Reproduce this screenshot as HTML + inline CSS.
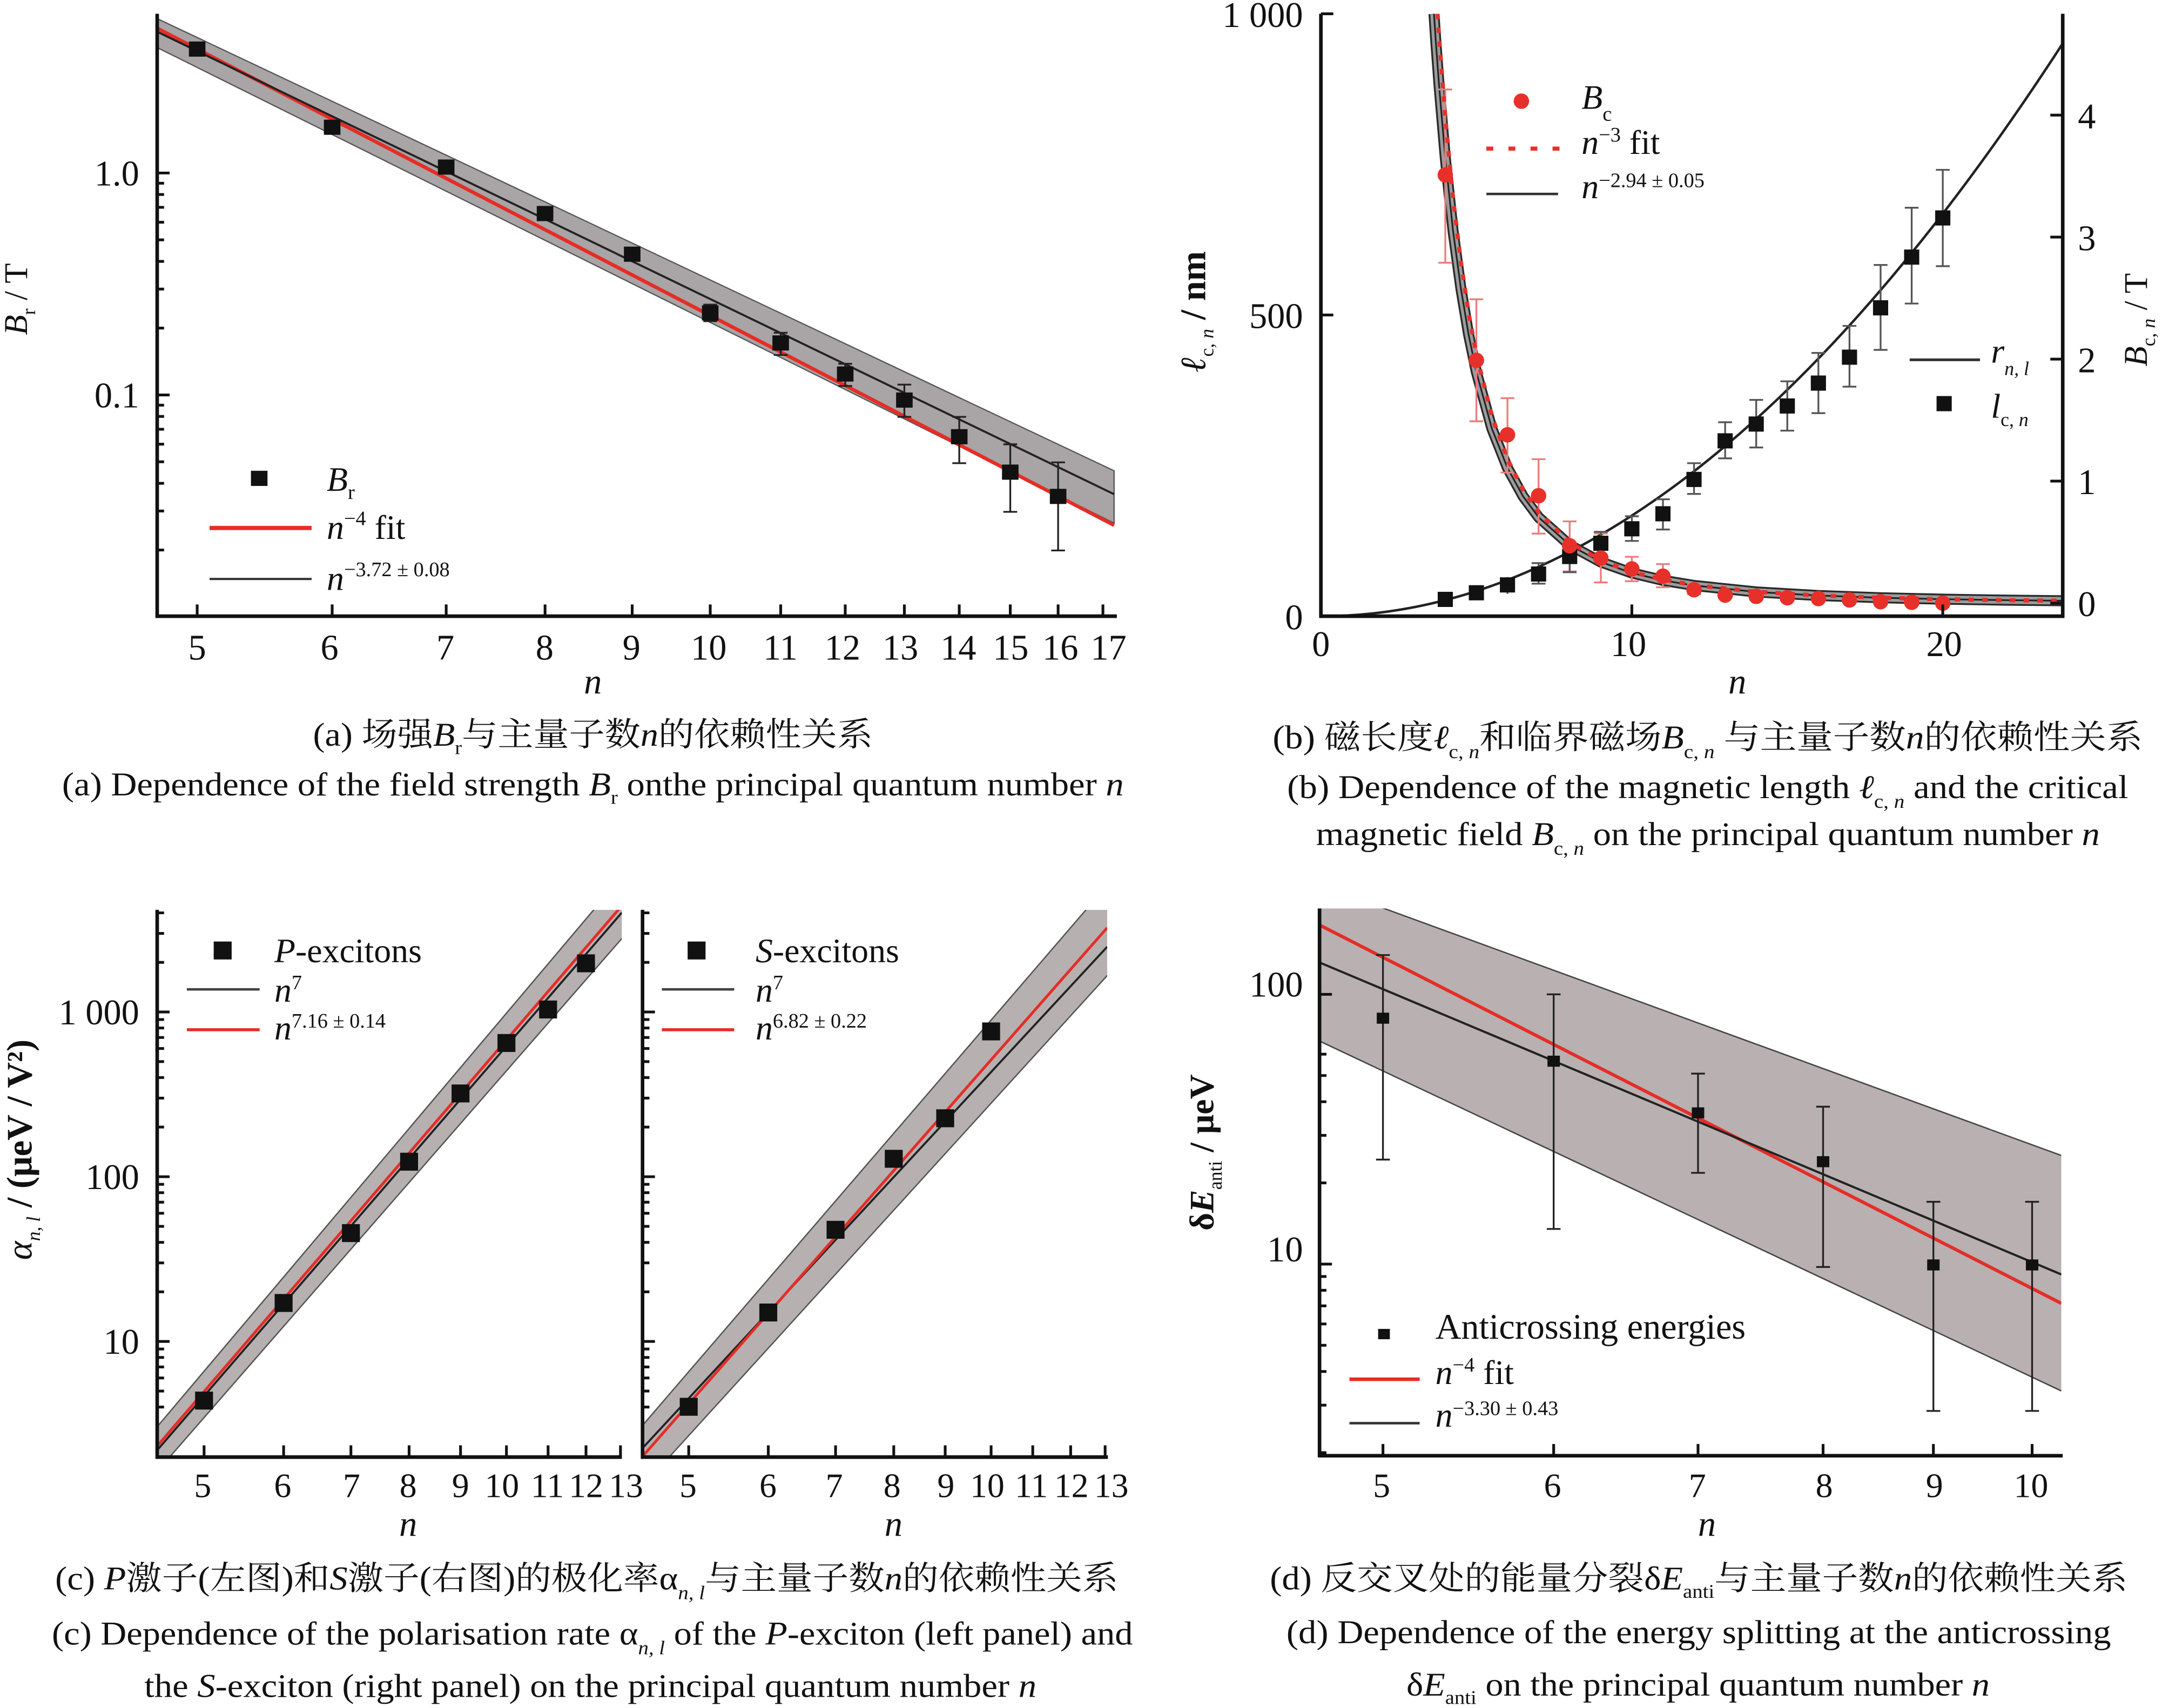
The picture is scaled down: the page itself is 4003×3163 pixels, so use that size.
<!DOCTYPE html>
<html><head><meta charset="utf-8"><style>html,body{margin:0;padding:0;background:#fff}svg{display:block}</style></head>
<body>
<svg xmlns="http://www.w3.org/2000/svg" width="4003" height="3163" viewBox="0 0 1568 1239" preserveAspectRatio="none" font-family="'Liberation Serif','Noto Serif CJK SC',serif" fill="#111">
<defs>
<clipPath id="ca"><rect x="114" y="10" width="695" height="437"/></clipPath>
<clipPath id="cb"><rect x="958" y="10" width="538" height="437"/></clipPath>
<clipPath id="cl"><rect x="114" y="660" width="337" height="397"/></clipPath>
<clipPath id="cr"><rect x="466" y="660" width="337" height="397"/></clipPath>
<clipPath id="cd"><rect x="957" y="659" width="538" height="397"/></clipPath>
</defs>
<rect width="1568" height="1239" fill="#fff"/>

<!-- ================= PANEL A ================= -->
<g clip-path="url(#ca)">
<polygon points="114,13.5 808,341.5 808,379.5 114,34.5" fill="#a9a4a5" stroke="#555" stroke-width="0.9"/>
<line x1="114" y1="20.5" x2="808" y2="381" stroke="#e52d27" stroke-width="2.6"/>
<line x1="114" y1="23" x2="808" y2="358.5" stroke="#222" stroke-width="1.5"/>
<path d="M515.1 221V233M510.1 221H520.1M510.1 233H520.1
M566.2 241.4V257.5M561.2 241.4H571.2M561.2 257.5H571.2
M613 263.9V280M608 263.9H618M608 280H618
M655.9 279V302.4M650.9 279H660.9M650.9 302.4H660.9
M695.7 302.4V336M690.7 302.4H700.7M690.7 336H700.7
M732.7 322.3V371.3M727.7 322.3H737.7M727.7 371.3H737.7
M767.4 335.4V399.3M762.4 335.4H772.4M762.4 399.3H772.4" stroke="#222" stroke-width="1.3" fill="none"/>
<g fill="#111">
<rect x="137" y="30.1" width="12" height="11"/>
<rect x="234.9" y="86.8" width="12" height="11"/>
<rect x="317.6" y="115.7" width="12" height="11"/>
<rect x="389.3" y="149.4" width="12" height="11"/>
<rect x="452.5" y="178.9" width="12" height="11"/>
<rect x="509.1" y="221.5" width="12" height="11"/>
<rect x="560.2" y="243.3" width="12" height="11"/>
<rect x="607" y="265.8" width="12" height="11"/>
<rect x="649.9" y="284.7" width="12" height="11"/>
<rect x="689.7" y="311.3" width="12" height="11"/>
<rect x="726.7" y="337" width="12" height="11"/>
<rect x="761.4" y="354.6" width="12" height="11"/>
</g>
</g>
<!-- axes a -->
<path d="M114 10V448M112.8 447H810" stroke="#111" stroke-width="2.6" fill="none"/>
<path d="M114 125.5h9M114 286.5h9
M114 132.9h5M114 141.1h5M114 150.4h5M114 161.2h5M114 174h5M114 189.6h5M114 209.7h5M114 238h5
M114 293.9h5M114 302.1h5M114 311.4h5M114 322.2h5M114 335h5M114 350.6h5M114 370.7h5M114 399h5
M143 447v-8.5M240.9 447v-8.5M323.6 447v-8.5M395.3 447v-8.5M458.5 447v-8.5M515.1 447v-8.5M566.2 447v-8.5M613 447v-8.5M655.9 447v-8.5M695.7 447v-8.5M732.7 447v-8.5M767.4 447v-8.5M799.9 447v-8.5" stroke="#111" stroke-width="2" fill="none"/>
<g font-size="26" text-anchor="middle">
<text x="143" y="478.5">5</text><text x="239" y="478.5">6</text><text x="323" y="478.5">7</text><text x="395" y="478.5">8</text><text x="458" y="478.5">9</text><text x="514" y="478.5">10</text><text x="566" y="478.5">11</text><text x="611" y="478.5">12</text><text x="653" y="478.5">13</text><text x="695" y="478.5">14</text><text x="733" y="478.5">15</text><text x="769" y="478.5">16</text><text x="804" y="478.5">17</text>
</g>
<g font-size="26" text-anchor="end">
<text x="101" y="134.5">1.0</text><text x="101" y="295.5">0.1</text>
</g>
<text x="430" y="503" font-size="26" font-style="italic" text-anchor="middle">n</text>
<text transform="translate(19.5,217) rotate(-90)" text-anchor="middle" font-size="24"><tspan font-style="italic">B</tspan><tspan font-size="14" dy="6">r</tspan><tspan dy="-6"> / T</tspan></text>
<!-- legend a -->
<rect x="182" y="341.5" width="12" height="11" fill="#111"/>
<text x="237" y="356" font-size="25"><tspan font-style="italic">B</tspan><tspan font-size="15" dy="6">r</tspan></text>
<line x1="152" y1="383" x2="226" y2="383" stroke="#e52d27" stroke-width="3"/>
<text x="237" y="391" font-size="25"><tspan font-style="italic">n</tspan><tspan font-size="15" dy="-10">−4</tspan><tspan dy="10"> fit</tspan></text>
<line x1="152" y1="420" x2="226" y2="420" stroke="#333" stroke-width="1.6"/>
<text x="237" y="428" font-size="25"><tspan font-style="italic">n</tspan><tspan font-size="15" dy="-10">−3.72 ± 0.08</tspan></text>

<!-- ================= PANEL B ================= -->
<g clip-path="url(#cb)">
<path d="M1040 10L1041.4 31.1L1043.7 62L1048.2 114.5L1053.8 167.2L1059.5 209.1L1065.1 242.6L1070.75 269.9L1082 310.9L1093.3 339.45L1104.6 360L1115.85 375.2L1138.4 395.4L1161 407.7L1183.5 415.65L1206.05 421L1228.6 424.7L1273.7 429.4L1318.8 432L1363.9 433.6L1409 434.65L1454.1 435.35L1496 435.8" fill="none" stroke="#2a2a2a" stroke-width="8" stroke-linejoin="round"/>
<path d="M1040 10L1041.4 31.1L1043.7 62L1048.2 114.5L1053.8 167.2L1059.5 209.1L1065.1 242.6L1070.75 269.9L1082 310.9L1093.3 339.45L1104.6 360L1115.85 375.2L1138.4 395.4L1161 407.7L1183.5 415.65L1206.05 421L1228.6 424.7L1273.7 429.4L1318.8 432L1363.9 433.6L1409 434.65L1454.1 435.35L1496 435.8" fill="none" stroke="#9c9c9c" stroke-width="5.4" stroke-linejoin="round"/>
<path d="M1040 10L1041.4 31.1L1043.7 62L1048.2 114.5L1053.8 167.2L1059.5 209.1L1065.1 242.6L1070.75 269.9L1082 310.9L1093.3 339.45L1104.6 360L1115.85 375.2L1138.4 395.4L1161 407.7L1183.5 415.65L1206.05 421L1228.6 424.7L1273.7 429.4L1318.8 432L1363.9 433.6L1409 434.65L1454.1 435.35L1496 435.8" fill="none" stroke="#222" stroke-width="1.2" stroke-linejoin="round"/>
<!-- rising curve -->
<path d="M958 447Q1227 447 1496 31.5" fill="none" stroke="#222" stroke-width="1.8"/>
<!-- red error bars -->
<path d="M1048.2 64.9V190.6M1043.2 64.9H1053.2M1043.2 190.6H1053.2
M1070.75 217.1V305.6M1065.75 217.1H1075.75M1065.75 305.6H1075.75
M1093.3 288.8V342.8M1088.3 288.8H1098.3M1088.3 342.8H1098.3
M1115.85 333.1V387.1M1110.85 333.1H1120.85M1110.85 387.1H1120.85
M1138.4 378.2V414.5M1133.4 378.2H1143.4M1133.4 414.5H1143.4
M1161 387V422.5M1156 387H1166M1156 422.5H1166
M1183.5 403.9V421.6M1178.5 403.9H1188.5M1178.5 421.6H1188.5
M1206.05 409.2V426M1201.05 409.2H1211.05M1201.05 426H1211.05
M1228.6 424V431M1223.6 424H1233.6M1223.6 431H1233.6" stroke="#ec7b7b" stroke-width="1.3" fill="none"/>
<!-- black error bars -->
<path d="M1048.2 432V437.4M1070.75 426V433.9M1093.3 418.6V430.8M1115.85 408.5V423.4M1110.85 408.5H1120.85M1110.85 423.4H1120.85
M1138.4 395V415.1M1133.4 395H1143.4M1133.4 415.1H1143.4
M1161 385.8V402.4M1156 385.8H1166M1156 402.4H1166
M1183.5 374.5V392.4M1178.5 374.5H1188.5M1178.5 392.4H1188.5
M1206.05 362.2V384.1M1201.05 362.2H1211.05M1201.05 384.1H1211.05
M1228.6 336V358.3M1223.6 336H1233.6M1223.6 358.3H1233.6
M1251.15 306.3V332.5M1246.15 306.3H1256.15M1246.15 332.5H1256.15
M1273.7 290.1V324.6M1268.7 290.1H1278.7M1268.7 324.6H1278.7
M1296.25 276.6V312.4M1291.25 276.6H1301.25M1291.25 312.4H1301.25
M1318.8 256V299.7M1313.8 256H1323.8M1313.8 299.7H1323.8
M1341.35 236.4V280.5M1336.35 236.4H1346.35M1336.35 280.5H1346.35
M1363.9 192.2V253.8M1358.9 192.2H1368.9M1358.9 253.8H1368.9
M1386.45 150.7V220.2M1381.45 150.7H1391.45M1381.45 220.2H1391.45
M1409 123.2V193.1M1404 123.2H1414M1404 193.1H1414" stroke="#555" stroke-width="1.3" fill="none"/>
<!-- black squares -->
<g fill="#111">
<rect x="1042.7" y="429.3" width="11" height="11"/>
<rect x="1065.25" y="424.5" width="11" height="11"/>
<rect x="1087.8" y="418.8" width="11" height="11"/>
<rect x="1110.35" y="410.9" width="11" height="11"/>
<rect x="1132.9" y="398.2" width="11" height="11"/>
<rect x="1155.5" y="388.6" width="11" height="11"/>
<rect x="1178" y="378.1" width="11" height="11"/>
<rect x="1200.55" y="367.2" width="11" height="11"/>
<rect x="1223.1" y="342.3" width="11" height="11"/>
<rect x="1245.65" y="314.3" width="11" height="11"/>
<rect x="1268.2" y="302.1" width="11" height="11"/>
<rect x="1290.75" y="289" width="11" height="11"/>
<rect x="1313.3" y="272.4" width="11" height="11"/>
<rect x="1335.85" y="253.6" width="11" height="11"/>
<rect x="1358.4" y="217.8" width="11" height="11"/>
<rect x="1380.95" y="181" width="11" height="11"/>
<rect x="1403.5" y="152.6" width="11" height="11"/>
</g>
<!-- red dotted fit -->
<path d="M1042.6 10L1043.7 26.2L1048.2 84.9L1053.8 143.5L1059.5 189.8L1065.1 226.9L1070.75 257L1082 301.9L1093.3 333L1104.6 355.3L1115.85 371.7L1138.4 393.4L1161 406.5L1183.5 414.9L1206.05 420.5L1228.6 424.4L1273.7 429.3L1318.8 432L1363.9 433.6L1409 434.7L1454.1 435.4L1496 435.8" fill="none" stroke="#e8302a" stroke-width="3" stroke-dasharray="4 6"/>
<!-- red circles -->
<g fill="#e8302a">
<circle cx="1048.2" cy="126.9" r="5.6"/>
<circle cx="1070.75" cy="261.4" r="5.6"/>
<circle cx="1093.3" cy="315.4" r="5.6"/>
<circle cx="1115.85" cy="359.6" r="5.6"/>
<circle cx="1138.4" cy="395.9" r="5.6"/>
<circle cx="1161" cy="404.8" r="5.6"/>
<circle cx="1183.5" cy="412.7" r="5.6"/>
<circle cx="1206.05" cy="418" r="5.6"/>
<circle cx="1228.6" cy="427.8" r="5.6"/>
<circle cx="1251.15" cy="431.7" r="5.6"/>
<circle cx="1273.7" cy="432.6" r="5.6"/>
<circle cx="1296.25" cy="433.6" r="5.6"/>
<circle cx="1318.8" cy="434.2" r="5.6"/>
<circle cx="1341.35" cy="435.2" r="5.6"/>
<circle cx="1363.9" cy="436.5" r="5.6"/>
<circle cx="1386.45" cy="436.9" r="5.6"/>
<circle cx="1409" cy="437.5" r="5.6"/>
</g>
</g>
<!-- axes b -->
<path d="M958 10V448M956.8 447H1497.2M1496 10V448" stroke="#111" stroke-width="2.6" fill="none"/>
<path d="M958 10h9M958 228.5h9M958 447v-8.5M1183.5 447v-8.5M1409 447v-8.5
M1496 437.5h-9M1496 349h-9M1496 260.5h-9M1496 172h-9M1496 83.5h-9" stroke="#111" stroke-width="2" fill="none"/>
<g font-size="26" text-anchor="middle">
<text x="958" y="476">0</text><text x="1181" y="476">10</text><text x="1410" y="476">20</text>
</g>
<g font-size="26" text-anchor="end">
<text x="945" y="19.5">1 000</text><text x="945" y="238">500</text><text x="945" y="456.5">0</text>
</g>
<g font-size="26">
<text x="1507" y="447">0</text><text x="1507" y="358.5">1</text><text x="1507" y="270">2</text><text x="1507" y="181.5">3</text><text x="1507" y="93">4</text>
</g>
<text x="1260" y="503" font-size="26" font-style="italic" text-anchor="middle">n</text>
<text transform="translate(874,226) rotate(-90)" text-anchor="middle" font-size="26" font-weight="bold"><tspan font-style="italic">ℓ</tspan><tspan font-size="14" dy="6" font-weight="normal">c, <tspan font-style="italic">n</tspan></tspan><tspan dy="-6"> / nm</tspan></text>
<text transform="translate(1557,232) rotate(-90)" text-anchor="middle" font-size="24"><tspan font-style="italic">B</tspan><tspan font-size="14" dy="6">c, <tspan font-style="italic">n</tspan></tspan><tspan dy="-6"> / T</tspan></text>
<!-- legend b -->
<circle cx="1103.4" cy="73.4" r="5.6" fill="#e8302a"/>
<text x="1147" y="79" font-size="25"><tspan font-style="italic">B</tspan><tspan font-size="15" dy="8.5">c</tspan></text>
<line x1="1078" y1="107.8" x2="1131" y2="107.8" stroke="#e8302a" stroke-width="3" stroke-dasharray="5 11"/>
<text x="1147" y="111.7" font-size="25"><tspan font-style="italic">n</tspan><tspan font-size="15" dy="-9">−3</tspan><tspan dy="9"> fit</tspan></text>
<line x1="1078" y1="140.7" x2="1130" y2="140.7" stroke="#333" stroke-width="1.8"/>
<text x="1147" y="143.7" font-size="25"><tspan font-style="italic">n</tspan><tspan font-size="15" dy="-8">−2.94 ± 0.05</tspan></text>
<line x1="1385" y1="261" x2="1436" y2="261" stroke="#333" stroke-width="2"/>
<text x="1444" y="263" font-size="25"><tspan font-style="italic">r</tspan><tspan font-size="14" dy="9" font-style="italic">n, l</tspan></text>
<rect x="1404.5" y="287.3" width="11" height="11" fill="#111"/>
<text x="1444" y="303" font-size="25"><tspan font-style="italic">l</tspan><tspan font-size="14" dy="6">c, <tspan font-style="italic">n</tspan></tspan></text>

<!-- ================= PANEL C left ================= -->
<path d="M114 698.1h5M114 677.1h5M114 662.2h5M114 817.6h5M114 796.6h5M114 781.7h5M114 770.1h5M114 760.6h5M114 752.6h5M114 745.7h5M114 739.6h5M114 937.1h5M114 916.1h5M114 901.2h5M114 889.6h5M114 880.1h5M114 872.1h5M114 865.2h5M114 859.1h5M114 1035.6h5M114 1020.7h5M114 1009.1h5M114 999.6h5M114 991.6h5M114 984.7h5M114 978.6h5
M466 698.1h5M466 677.1h5M466 662.2h5M466 817.6h5M466 796.6h5M466 781.7h5M466 770.1h5M466 760.6h5M466 752.6h5M466 745.7h5M466 739.6h5M466 937.1h5M466 916.1h5M466 901.2h5M466 889.6h5M466 880.1h5M466 872.1h5M466 865.2h5M466 859.1h5M466 1035.6h5M466 1020.7h5M466 1009.1h5M466 999.6h5M466 991.6h5M466 984.7h5M466 978.6h5" stroke="#111" stroke-width="2" fill="none"/>
<g clip-path="url(#cl)">
<polygon points="114,1035 430.6,660 451,660 451,680.8 123,1057 114,1057" fill="#b6b0b1"/>
<line x1="114" y1="1035" x2="430.6" y2="660" stroke="#555" stroke-width="1"/>
<line x1="123" y1="1057" x2="451" y2="680.8" stroke="#555" stroke-width="1"/>
<line x1="114" y1="1052" x2="451" y2="662" stroke="#222" stroke-width="1.5"/>
<line x1="114" y1="1049" x2="451" y2="657" stroke="#e52d27" stroke-width="2"/>
<g fill="#111">
<rect x="141.5" y="1009.5" width="13" height="13"/>
<rect x="199.2" y="938.7" width="13" height="13"/>
<rect x="248" y="888" width="13" height="13"/>
<rect x="290.2" y="836.2" width="13" height="13"/>
<rect x="327.5" y="786.7" width="13" height="13"/>
<rect x="360.8" y="750.1" width="13" height="13"/>
<rect x="391" y="725.8" width="13" height="13"/>
<rect x="418.5" y="692.3" width="13" height="13"/>
</g>
</g>
<g clip-path="url(#cr)">
<polygon points="466,1034 787.6,660 803,660 803,707.7 485.3,1057 466,1057" fill="#b6b0b1"/>
<line x1="466" y1="1034" x2="787.6" y2="660" stroke="#555" stroke-width="1"/>
<line x1="485.3" y1="1057" x2="803" y2="707.7" stroke="#555" stroke-width="1"/>
<line x1="466" y1="1050.5" x2="803" y2="686.8" stroke="#222" stroke-width="1.5"/>
<line x1="466" y1="1056.5" x2="803" y2="673" stroke="#e52d27" stroke-width="2"/>
<g fill="#111">
<rect x="493" y="1014" width="13" height="13"/>
<rect x="550.7" y="945.6" width="13" height="13"/>
<rect x="599.5" y="885.6" width="13" height="13"/>
<rect x="641.7" y="834.1" width="13" height="13"/>
<rect x="679" y="804.7" width="13" height="13"/>
<rect x="712.3" y="741.7" width="13" height="13"/>
</g>
</g>
<!-- axes c -->
<path d="M114 660V1058M112.8 1057H451M466 660V1058M464.8 1057H803.5" stroke="#111" stroke-width="2.6" fill="none"/>
<path d="M114 734.1h9M114 853.6h9M114 973.1h9M466 734.1h9M466 853.6h9M466 973.1h9
M148 1057v-8.5M205.7 1057v-8.5M254.5 1057v-8.5M296.7 1057v-8.5M334 1057v-8.5M367.3 1057v-8.5M397.5 1057v-8.5M425 1057v-8.5M450 1057v-8.5
M499.5 1057v-8.5M557.2 1057v-8.5M606 1057v-8.5M648.2 1057v-8.5M685.5 1057v-8.5M718.8 1057v-8.5M749 1057v-8.5M776.5 1057v-8.5M801.5 1057v-8.5" stroke="#111" stroke-width="2" fill="none"/>
<g font-size="25" text-anchor="middle">
<text x="147" y="1086">5</text><text x="205" y="1086">6</text><text x="255" y="1086">7</text><text x="296" y="1086">8</text><text x="334" y="1086">9</text><text x="364" y="1086">10</text><text x="397" y="1086">11</text><text x="425" y="1086">12</text><text x="454" y="1086">13</text>
<text x="499" y="1086">5</text><text x="557" y="1086">6</text><text x="605" y="1086">7</text><text x="647" y="1086">8</text><text x="686" y="1086">9</text><text x="716" y="1086">10</text><text x="748" y="1086">11</text><text x="777" y="1086">12</text><text x="806" y="1086">13</text>
</g>
<g font-size="26" text-anchor="end">
<text x="101" y="743">1 000</text><text x="101" y="862.5">100</text><text x="101" y="982">10</text>
</g>
<text x="296" y="1114" font-size="26" font-style="italic" text-anchor="middle">n</text>
<text x="648" y="1114" font-size="26" font-style="italic" text-anchor="middle">n</text>
<text transform="translate(23,834) rotate(-90)" text-anchor="middle" font-size="26" font-weight="bold"><tspan font-style="italic" font-weight="normal">α</tspan><tspan font-size="14" dy="6" font-style="italic" font-weight="normal">n, l</tspan><tspan dy="-6"> / (μeV / V²)</tspan></text>
<!-- legend c -->
<rect x="155" y="683" width="13" height="13" fill="#111"/>
<text x="199" y="698" font-size="25"><tspan font-style="italic">P</tspan>-excitons</text>
<line x1="135.5" y1="717.7" x2="188.3" y2="717.7" stroke="#444" stroke-width="1.8"/>
<text x="199" y="726.6" font-size="25"><tspan font-style="italic">n</tspan><tspan font-size="15" dy="-9">7</tspan></text>
<line x1="135.5" y1="747" x2="188.3" y2="747" stroke="#e52d27" stroke-width="2.2"/>
<text x="199" y="754" font-size="25"><tspan font-style="italic">n</tspan><tspan font-size="15" dy="-8.5">7.16 ± 0.14</tspan></text>
<rect x="498.7" y="683" width="13" height="13" fill="#111"/>
<text x="548" y="698" font-size="25"><tspan font-style="italic">S</tspan>-excitons</text>
<line x1="480" y1="717.7" x2="532.5" y2="717.7" stroke="#444" stroke-width="1.8"/>
<text x="548" y="726.6" font-size="25"><tspan font-style="italic">n</tspan><tspan font-size="15" dy="-9">7</tspan></text>
<line x1="480" y1="747" x2="532.5" y2="747" stroke="#e52d27" stroke-width="2.2"/>
<text x="548" y="754" font-size="25"><tspan font-style="italic">n</tspan><tspan font-size="15" dy="-8.5">6.82 ± 0.22</tspan></text>

<!-- ================= PANEL D ================= -->
<path d="M957 662.4h5M957 858.1h5M957 823.6h5M957 799.2h5M957 780.2h5M957 764.7h5M957 751.6h5M957 740.3h5M957 730.3h5M957 1053.8h5M957 1019.3h5M957 994.9h5M957 975.9h5M957 960.4h5M957 947.3h5M957 936h5M957 926h5" stroke="#111" stroke-width="2" fill="none"/>
<g clip-path="url(#cd)">
<polygon points="957,641.9 1495,838.2 1495,1009 957,755.2" fill="#b8b0b1"/>
<line x1="957" y1="641.9" x2="1495" y2="838.2" stroke="#444" stroke-width="1"/>
<line x1="957" y1="755.2" x2="1495" y2="1009" stroke="#444" stroke-width="1"/>
<line x1="957" y1="671" x2="1495" y2="945.5" stroke="#e52d27" stroke-width="2.4"/>
<line x1="957" y1="698.2" x2="1495" y2="924.5" stroke="#222" stroke-width="1.6"/>
<path d="M1003 692.8V841.2M998 692.8H1008M998 841.2H1008
M1126.8 721.3V891.5M1121.8 721.3H1131.8M1121.8 891.5H1131.8
M1231.5 778.8V850.8M1226.5 778.8H1236.5M1226.5 850.8H1236.5
M1322.2 802.8V919.1M1317.2 802.8H1327.2M1317.2 919.1H1327.2
M1402.2 871.8V1023.5M1397.2 871.8H1407.2M1397.2 1023.5H1407.2
M1473.8 871.8V1023.5M1468.8 871.8H1478.8M1468.8 1023.5H1478.8" stroke="#222" stroke-width="1.3" fill="none"/>
<g fill="#111">
<rect x="998.5" y="734.6" width="9" height="8"/>
<rect x="1122.3" y="765.8" width="9" height="8"/>
<rect x="1227" y="803.3" width="9" height="8"/>
<rect x="1317.7" y="838.7" width="9" height="8"/>
<rect x="1397.7" y="913.6" width="9" height="8"/>
<rect x="1469.3" y="913.6" width="9" height="8"/>
</g>
</g>
<path d="M957 659V1057M955.8 1056H1496" stroke="#111" stroke-width="2.6" fill="none"/>
<path d="M957 721.3h9M957 917h9
M1003 1056v-8.5M1126.8 1056v-8.5M1231.5 1056v-8.5M1322.2 1056v-8.5M1402.2 1056v-8.5M1473.8 1056v-8.5" stroke="#111" stroke-width="2" fill="none"/>
<g font-size="25" text-anchor="middle">
<text x="1002" y="1086">5</text><text x="1126" y="1086">6</text><text x="1231" y="1086">7</text><text x="1323" y="1086">8</text><text x="1403" y="1086">9</text><text x="1473" y="1086">10</text>
</g>
<g font-size="26" text-anchor="end">
<text x="945" y="723">100</text><text x="945" y="915">10</text>
</g>
<text x="1238" y="1114" font-size="26" font-style="italic" text-anchor="middle">n</text>
<text transform="translate(880,836) rotate(-90)" text-anchor="middle" font-size="25" font-weight="bold">δ<tspan font-style="italic">E</tspan><tspan font-size="14" dy="6" font-weight="normal">anti</tspan><tspan dy="-6"> / μeV</tspan></text>
<!-- legend d -->
<rect x="999.5" y="964" width="8.5" height="7.5" fill="#111"/>
<text x="1041" y="971" font-size="26" textLength="225" lengthAdjust="spacingAndGlyphs">Anticrossing energies</text>
<line x1="978.7" y1="1000.5" x2="1029.6" y2="1000.5" stroke="#e52d27" stroke-width="2.6"/>
<text x="1041" y="1004" font-size="25"><tspan font-style="italic">n</tspan><tspan font-size="15" dy="-9">−4</tspan><tspan dy="9"> fit</tspan></text>
<line x1="978.7" y1="1032.4" x2="1029.6" y2="1032.4" stroke="#333" stroke-width="1.8"/>
<text x="1041" y="1035" font-size="25"><tspan font-style="italic">n</tspan><tspan font-size="15" dy="-8.5">−3.30 ± 0.43</tspan></text>

<!-- ================= CAPTIONS ================= -->
<g font-size="24">
<text x="227" y="541" textLength="406" lengthAdjust="spacingAndGlyphs">(a) 场强<tspan font-style="italic">B</tspan><tspan font-size="14" dy="6">r</tspan><tspan dy="-6">与主量子数</tspan><tspan font-style="italic">n</tspan>的依赖性关系</text>
<text x="45" y="577" textLength="770" lengthAdjust="spacingAndGlyphs">(a) Dependence of the field strength <tspan font-style="italic">B</tspan><tspan font-size="14" dy="6">r</tspan><tspan dy="-6"> onthe principal quantum number </tspan><tspan font-style="italic">n</tspan></text>

<text x="923" y="543" textLength="631" lengthAdjust="spacingAndGlyphs">(b) 磁长度<tspan font-style="italic">ℓ</tspan><tspan font-size="14" dy="7">c, <tspan font-style="italic">n</tspan></tspan><tspan dy="-7">和临界磁场</tspan><tspan font-style="italic">B</tspan><tspan font-size="14" dy="7">c, <tspan font-style="italic">n</tspan></tspan><tspan dy="-7"> 与主量子数</tspan><tspan font-style="italic">n</tspan>的依赖性关系</text>
<text x="933.5" y="579" textLength="610" lengthAdjust="spacingAndGlyphs">(b) Dependence of the magnetic length <tspan font-style="italic">ℓ</tspan><tspan font-size="14" dy="7">c, <tspan font-style="italic">n</tspan></tspan><tspan dy="-7"> and the critical</tspan></text>
<text x="954.4" y="613" textLength="568.5" lengthAdjust="spacingAndGlyphs">magnetic field <tspan font-style="italic">B</tspan><tspan font-size="14" dy="7">c, <tspan font-style="italic">n</tspan></tspan><tspan dy="-7"> on the principal quantum number </tspan><tspan font-style="italic">n</tspan></text>

<text x="40" y="1153" textLength="771" lengthAdjust="spacingAndGlyphs">(c) <tspan font-style="italic">P</tspan>激子(左图)和<tspan font-style="italic">S</tspan>激子(右图)的极化率α<tspan font-size="14" dy="7" font-style="italic">n, l</tspan><tspan dy="-7">与主量子数</tspan><tspan font-style="italic">n</tspan>的依赖性关系</text>
<text x="37.6" y="1193" textLength="784" lengthAdjust="spacingAndGlyphs">(c) Dependence of the polarisation rate α<tspan font-size="14" dy="7" font-style="italic">n, l</tspan><tspan dy="-7"> of the </tspan><tspan font-style="italic">P</tspan>-exciton (left panel) and</text>
<text x="104.7" y="1231" textLength="647" lengthAdjust="spacingAndGlyphs">the <tspan font-style="italic">S</tspan>-exciton (right panel) on the principal quantum number <tspan font-style="italic">n</tspan></text>

<text x="921" y="1153" textLength="622" lengthAdjust="spacingAndGlyphs">(d) 反交叉处的能量分裂δ<tspan font-style="italic">E</tspan><tspan font-size="14" dy="6">anti</tspan><tspan dy="-6">与主量子数</tspan><tspan font-style="italic">n</tspan>的依赖性关系</text>
<text x="933" y="1192" textLength="598" lengthAdjust="spacingAndGlyphs">(d) Dependence of the energy splitting at the anticrossing</text>
<text x="1020" y="1230" textLength="423" lengthAdjust="spacingAndGlyphs">δ<tspan font-style="italic">E</tspan><tspan font-size="14" dy="6">anti</tspan><tspan dy="-6"> on the principal quantum number </tspan><tspan font-style="italic">n</tspan></text>
</g>
</svg>
</body></html>
